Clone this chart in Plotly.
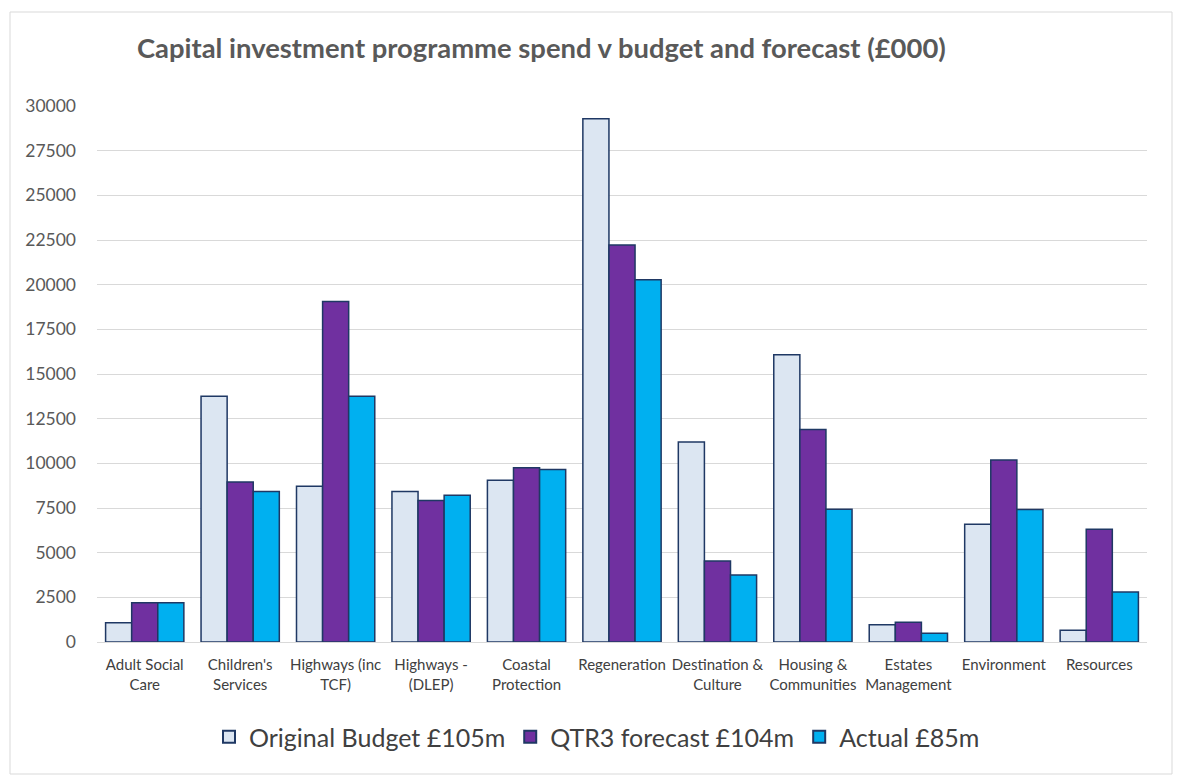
import plotly.graph_objects as go

categories = ["Adult Social<br>Care", "Children's<br>Services", "Highways (inc<br>TCF)", "Highways -<br>(DLEP)",
              "Coastal<br>Protection", "Regeneration", "Destination &<br>Culture", "Housing &<br>Communities",
              "Estates<br>Management", "Environment", "Resources"]
original_budget = [1080, 13750, 8720, 8420, 9060, 29280, 11190, 16080, 970, 6590, 660]
qtr3_forecast = [2200, 8950, 19060, 7920, 9750, 22220, 4540, 11890, 1100, 10180, 6310]
actual = [2200, 8420, 13750, 8220, 9650, 20280, 3750, 7430, 490, 7410, 2800]
series_names = ["Original Budget £105m", "QTR3 forecast £104m", "Actual £85m"]
colors = ["#DCE6F2", "#7030A0", "#00B0F0"]
y_ticks = list(range(0, 30001, 2500))

font_family = "Lato, 'Open Sans', sans-serif"

W, H = 1174, 770
L, T, R, B = 89, 98, 35, 136
pw, ph = W - L - R, H - T - B

fig = go.Figure()
for name, vals, col in zip(series_names, [original_budget, qtr3_forecast, actual], colors):
    fig.add_trace(go.Bar(
        x=categories, y=vals, name=name,
        marker=dict(color=col, line=dict(color="#1F3864", width=1.5)),
    ))

fig.update_layout(
    width=W, height=H,
    paper_bgcolor="white", plot_bgcolor="white",
    margin=dict(l=L, r=R, t=T, b=B, autoexpand=False),
    barmode="group", bargap=0.18, bargroupgap=0,
    title=dict(text="<b>Capital investment programme spend v budget and forecast (£000)</b>",
               x=129 / W, xanchor="left", y=1 - 40 / H, yanchor="middle",
               font=dict(family=font_family, size=27.4, color="#595959")),
    font=dict(family=font_family, color="#595959"),
    legend=dict(orientation="h", xref="container", x=589 / W, xanchor="center",
                yref="container", y=(H - 729) / H, yanchor="middle",
                font=dict(size=25, color="#404040"), itemsizing="constant",
                traceorder="normal", itemwidth=30),
    showlegend=True,
)
fig.update_yaxes(range=[0, 30000], tickvals=y_ticks, ticktext=[str(v) for v in y_ticks],
                 showgrid=True, gridcolor="#D9D9D9", gridwidth=1, zeroline=False,
                 showline=False, tickfont=dict(size=17.5, color="#595959"),
                 ticklabelstandoff=20)
fig.update_xaxes(showline=True, linecolor="#D9D9D9", linewidth=1, tickfont=dict(size=15, color="#404040"),
                 tickangle=0, ticks="", ticklabelstandoff=9)

fig.add_shape(type="rect", xref="paper", yref="paper",
              x0=-(L - 2) / pw, x1=(1164 - L) / pw, y0=-(B - 4) / ph, y1=(ph + T - 4) / ph,
              line=dict(color="#D9D9D9", width=1), fillcolor="rgba(0,0,0,0)", layer="below")

fig.write_html("out.html")
